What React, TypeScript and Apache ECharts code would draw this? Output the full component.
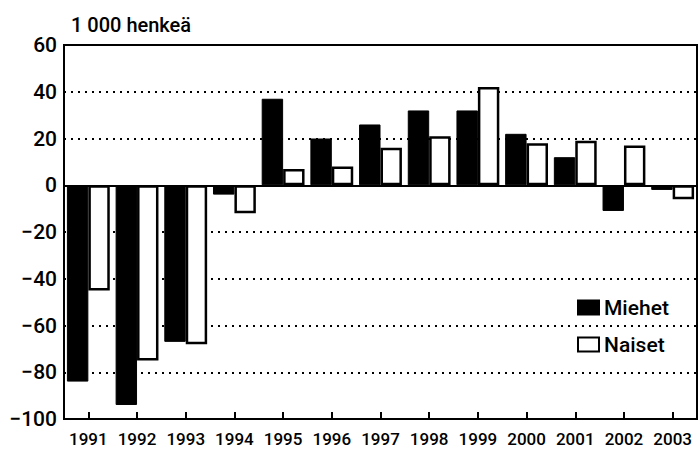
import React, { useEffect, useRef } from "react";
import * as echarts from "echarts";

const years = ["1991","1992","1993","1994","1995","1996","1997","1998","1999","2000","2001","2002","2003"];
const miehet = [-84, -94, -67, -4, 37, 20, 26, 32, 32, 22, 12, -11, -2];
const naiset = [-45, -75, -68, -12, 7, 8, 16, 21, 42, 18, 19, 17, -6];
const unitLabel = "1 000 henkeä";
const seriesNames = ["Miehet", "Naiset"];

const FONT = "Roboto, 'Liberation Sans', sans-serif";

export default function App() {
  const ref = useRef<HTMLDivElement>(null);
  useEffect(() => {
    if (!ref.current) return;
    const chart = echarts.init(ref.current, null, { renderer: "svg" });
    chart.setOption({
      animation: false,
      backgroundColor: "#ffffff",
      textStyle: { fontFamily: FONT, color: "#000" },
      title: {
        text: unitLabel,
        left: 66,
        top: 10,
        textStyle: { fontFamily: FONT, fontSize: 20, fontWeight: 500, color: "#000" },
      },
      legend: {
        orient: "vertical",
        left: 572,
        top: 292,
        icon: "rect",
        itemWidth: 21,
        itemHeight: 14,
        itemGap: 16,
        textStyle: { fontFamily: FONT, fontSize: 21, fontWeight: 500, color: "#000" },
        data: seriesNames,
      },
      grid: {
        left: 64,
        right: 3,
        top: 45,
        bottom: 31,
        show: true,
        borderColor: "#000",
        borderWidth: 2,
        backgroundColor: "transparent",
      },
      xAxis: {
        type: "category",
        data: years,
        axisLine: { onZero: false, lineStyle: { color: "#000", width: 2 } },
        axisTick: { show: true, inside: true, alignWithLabel: true, length: 7, lineStyle: { color: "#000", width: 2 } },
        axisLabel: { fontFamily: FONT, fontSize: 17, fontWeight: 500, color: "#000", margin: 11, interval: 0 },
        splitLine: { show: false },
      },
      yAxis: {
        type: "value",
        min: -100,
        max: 60,
        interval: 20,
        axisLine: { show: true, lineStyle: { color: "#000", width: 2 } },
        axisTick: { show: false },
        axisLabel: {
          fontFamily: FONT,
          fontSize: 21,
          fontWeight: 500,
          color: "#000",
          margin: 7,
          formatter: (v: number) => (v < 0 ? "\u2212" + Math.abs(v) : String(v)),
        },
        splitLine: { show: true, lineStyle: { color: "#000", width: 2, type: [2, 5] } },
      },
      series: [
        {
          name: seriesNames[0],
          type: "bar",
          data: miehet,
          barGap: "0%",
          barCategoryGap: "12%",
          itemStyle: { color: "#000", borderColor: "#000", borderWidth: 1 },
          markLine: {
            silent: true,
            symbol: "none",
            label: { show: false },
            lineStyle: { color: "#000", width: 2, type: "solid" },
            data: [{ yAxis: 0 }],
          },
        },
        {
          name: seriesNames[1],
          type: "bar",
          data: naiset,
          itemStyle: { color: "#fff", borderColor: "#000", borderWidth: 2.5 },
        },
      ],
    });
    return () => chart.dispose();
  }, []);
  return <div ref={ref} style={{ width: 700, height: 450, position: "absolute", left: 0, top: 0 }} />;
}
